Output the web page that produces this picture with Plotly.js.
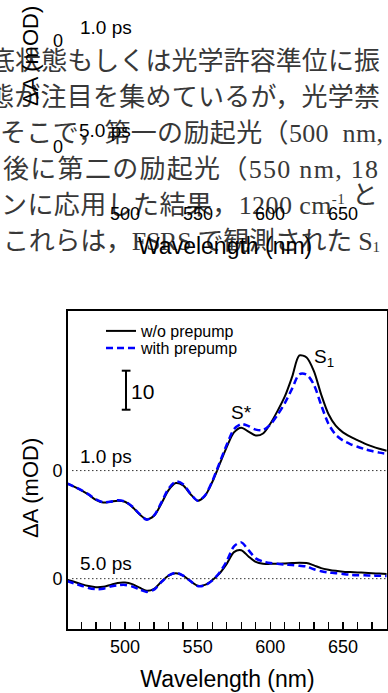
<!DOCTYPE html>
<html>
<head>
<meta charset="utf-8">
<script src="https://cdn.plot.ly/plotly-3.0.1.min.js"></script>
<style>
html,body{margin:0;padding:0;background:#fff;overflow:hidden}
#wrap{position:relative;width:388px;height:693px;background:#fff}
#jp{position:absolute;left:0;top:0;width:388px;height:300px}
#plot{position:absolute;left:0;top:0;width:388px;height:693px}
</style>
</head>
<body>
<div id="wrap">
<svg id="jp" xmlns="http://www.w3.org/2000/svg" width="388" height="300"></svg>
<div id="plot"></div>
</div>
<script>
// ---------------- data ----------------
const wavelength = [460,465,470,475,480,485,490,495,500,505,510,515,520,525,530,535,540,545,550,555,560,565,570,575,580,585,590,595,600,605,610,615,620,625,630,635,640,645,650,655,660,665,670,675,680];
// 1.0 ps spectra (mOD)
const dA_1ps_without = [-3.3,-4.1,-5.1,-6.2,-7.5,-8.2,-8.0,-7.7,-8.0,-9.3,-11.2,-12.5,-11.6,-8.5,-5.0,-3.2,-3.8,-6.0,-7.7,-6.5,-3.0,1.5,6.0,9.8,11.0,10.0,9.0,9.5,12.0,15.3,19.0,24.0,29.5,29.0,25.5,19.5,14.5,11.5,9.8,8.7,7.8,6.9,6.2,5.6,5.1];
const dA_1ps_with    = [-3.3,-4.1,-5.0,-6.1,-7.4,-8.1,-8.0,-7.6,-7.9,-9.2,-11.1,-12.6,-11.5,-8.2,-4.6,-2.8,-3.5,-5.9,-7.7,-6.4,-2.8,1.9,6.6,10.6,11.9,11.4,10.5,10.4,11.8,14.3,17.3,21.0,24.7,24.6,22.0,16.8,12.0,9.2,7.7,6.8,6.1,5.5,5.0,4.6,4.3];
// 5.0 ps spectra (mOD)
const dA_5ps_without = [-0.3,-0.8,-1.4,-1.9,-2.2,-2.1,-1.6,-1.1,-1.0,-1.4,-2.3,-3.1,-2.6,-0.8,0.8,1.4,0.8,-0.6,-1.8,-1.6,-0.4,1.3,3.8,6.8,7.3,5.7,4.3,3.8,3.8,3.8,3.9,4.0,4.1,4.0,3.4,2.7,2.3,2.0,1.8,1.7,1.6,1.5,1.4,1.3,1.2];
const dA_5ps_with    = [-0.6,-1.2,-1.8,-2.4,-2.7,-2.6,-2.0,-1.7,-1.6,-2.0,-2.8,-3.4,-2.8,-0.9,0.8,1.5,0.8,-0.6,-1.9,-1.7,-0.5,1.5,4.5,8.3,9.3,7.3,5.2,4.4,4.0,3.8,3.6,3.5,3.3,3.1,2.4,1.9,1.6,1.4,1.2,1.0,0.9,0.85,0.8,0.75,0.7];
const seriesNames = ["w/o prepump", "with prepump"];
const delayLabels = ["1.0 ps", "5.0 ps"];
const xTickLabels = ["500", "550", "600", "650"];
const xTickValues = [500, 550, 600, 650];
const scaleBarValue = 10;
const peakLabels = ["S*", "S<sub>1</sub>"];
const xTitle = "Wavelength (nm)";
const yTitle = "ΔA (mOD)";
// paragraph text (background page)
const paragraphLines = [
  ["底状態もしくは光学許容準位に振"],
  ["態が注目を集めているが，光学禁"],
  ["そこで，第一の励起光（500\u00a0\u00a0nm,"],
  ["後に第二の励起光（550 nm, 18"],
  ["ンに応用した結果，1200 cm", {sup:"-1"}, " と"],
  ["これらは，FSRS で観測された S", {sub:"1"}]
];

// ---------------- layout helpers ----------------
const W = 388, H = 693;
const M = {l:68, r:1, t:311, b:64};
const PW = W - M.l - M.r, PH = H - M.t - M.b;
const px2x = p => (p - M.l) / PW;
const py2y = p => (H - M.b - p) / PH;
const OFFSET = 27.7;
const XR = [460.8, 680.3];
const YR = [-12.9, 68.6];
const SANS = "Liberation Sans, Arial, sans-serif";

// ---------------- paragraph ----------------
(function(){
  const svg = document.getElementById('jp');
  const NS = 'http://www.w3.org/2000/svg';
  const lefts  = [-11, -12, 0, 3, 1, 3];
  const rights = [380, 380, 383, 378, 378, 380];
  const bases  = [70, 106, 142, 178, 214, 250];
  paragraphLines.forEach((parts, i) => {
    const t = document.createElementNS(NS, 'text');
    t.setAttribute('x', lefts[i]);
    t.setAttribute('y', bases[i]);
    t.setAttribute('font-family', "'Liberation Serif','Noto Sans CJK JP',serif");
    t.setAttribute('font-size', '26');
    t.setAttribute('fill', '#383838');
    t.setAttribute('textLength', rights[i] - lefts[i]);
    t.setAttribute('lengthAdjust', 'spacing');
    parts.forEach(p => {
      const s = document.createElementNS(NS, 'tspan');
      if (typeof p === 'string') { s.textContent = p; }
      else if (p.sup) { s.textContent = p.sup; s.setAttribute('font-size','15'); s.setAttribute('dy','-10'); }
      else if (p.sub) { s.textContent = p.sub; s.setAttribute('font-size','15'); s.setAttribute('dy','2'); }
      t.appendChild(s);
    });
    svg.appendChild(t);
  });
})();

// ---------------- traces ----------------
const shift = arr => arr.map(v => v + OFFSET);
const black = {color:'#000000', width:2, shape:'spline', smoothing:0.8};
const blue = {color:'#0000ff', width:2.5, dash:'7px,4px', shape:'spline', smoothing:0.8};
const traces = [
  {x:wavelength, y:shift(dA_1ps_without), mode:'lines', line:black, name:seriesNames[0], legend:'legend', showlegend:true},
  {x:wavelength, y:shift(dA_1ps_with), mode:'lines', line:blue, name:seriesNames[1], legend:'legend2', showlegend:true},
  {x:wavelength, y:dA_5ps_without, mode:'lines', line:black, name:seriesNames[0], showlegend:false},
  {x:wavelength, y:dA_5ps_with, mode:'lines', line:blue, name:seriesNames[1], showlegend:false}
];

// ---------------- annotations ----------------
const f = (s) => ({family:SANS, size:s, color:'#000'});
const ann = [
  {text:delayLabels[0], xref:'x', yref:'y', x:467.7, y:31.2, xanchor:'left', yanchor:'middle', showarrow:false, font:f(19)},
  {text:delayLabels[1], xref:'x', yref:'y', x:467.7, y:3.8, xanchor:'left', yanchor:'middle', showarrow:false, font:f(19)},
  {text:peakLabels[0], xref:'x', yref:'y', x:580.5, y:42.7, xanchor:'center', yanchor:'middle', showarrow:false, font:f(19)},
  {text:peakLabels[1], xref:'x', yref:'y', x:628.7, y:56.5, xanchor:'left', yanchor:'middle', showarrow:false, font:f(19)},
  {text:String(scaleBarValue), xref:'x', yref:'y', x:503.0, y:48.0, xanchor:'left', yanchor:'middle', showarrow:false, font:f(21)},
  {text:yTitle, xref:'paper', yref:'paper', x:px2x(30), y:py2y(488), textangle:-90, xanchor:'center', yanchor:'middle', showarrow:false, font:f(22)}
];
// ghost copy of the chart text, shifted up into the page text
const ghost = [
  {text:delayLabels[0], x:px2x(78), y:py2y(27), xanchor:'left', font:f(19)},
  {text:'0', x:px2x(58), y:py2y(40.5), xanchor:'center', font:f(18)},
  {text:delayLabels[1], x:px2x(77), y:py2y(130), xanchor:'left', font:f(19)},
  {text:'0', x:px2x(58), y:py2y(147), xanchor:'center', font:f(18)},
  {text:yTitle, x:px2x(30), y:py2y(56), xanchor:'center', textangle:-90, font:f(22)},
  {text:xTitle, x:px2x(225), y:py2y(246), xanchor:'center', font:f(23)}
];
ghost.forEach(g => ann.push(Object.assign({xref:'paper', yref:'paper', yanchor:'middle', showarrow:false}, g)));
xTickLabels.forEach((t, i) => ann.push({text:t, xref:'x', yref:'paper', x:xTickValues[i], y:py2y(214.5), xanchor:'center', yanchor:'middle', showarrow:false, font:f(18)}));

// ---------------- shapes ----------------
const shapes = [
  {type:'line', xref:'paper', yref:'y', x0:px2x(72), x1:1, y0:0, y1:0, line:{color:'#333', width:1, dash:'1.5px,2.5px'}},
  {type:'line', xref:'paper', yref:'y', x0:px2x(72), x1:1, y0:OFFSET, y1:OFFSET, line:{color:'#333', width:1, dash:'1.5px,2.5px'}},
  {type:'line', xref:'x', yref:'y', x0:500.7, x1:500.7, y0:43.3, y1:43.3 + scaleBarValue, line:{color:'#000', width:2}},
  {type:'line', xref:'x', yref:'y', x0:497.8, x1:503.8, y0:43.3, y1:43.3, line:{color:'#000', width:2}},
  {type:'line', xref:'x', yref:'y', x0:497.8, x1:503.8, y0:43.3 + scaleBarValue, y1:43.3 + scaleBarValue, line:{color:'#000', width:2}}
];

const legendBase = {xanchor:'left', yanchor:'middle', bgcolor:'rgba(0,0,0,0)', borderwidth:0, font:f(16), itemwidth:30};
const layout = {
  width:W, height:H, margin:M,
  paper_bgcolor:'rgba(0,0,0,0)', plot_bgcolor:'#fff',
  font:{family:SANS, color:'#000'},
  xaxis:{range:XR, showgrid:false, zeroline:false, showline:true, linecolor:'#000', linewidth:2, mirror:true,
         ticks:'inside', ticklen:7, tickwidth:1.3, tickcolor:'#000', tick0:0, dtick:50,
         minor:{dtick:10, tick0:0, ticks:'inside', ticklen:7, tickwidth:1.3, tickcolor:'#000'},
         tickfont:f(18), title:{text:xTitle, font:f(23), standoff:15}},
  yaxis:{range:YR, showgrid:false, zeroline:false, showline:true, linecolor:'#000', linewidth:2, mirror:true,
         ticks:'', tickvals:[0, OFFSET], ticktext:['0','0'], tickfont:f(18)},
  legend:Object.assign({x:px2x(101), y:py2y(331)}, legendBase),
  legend2:Object.assign({x:px2x(101), y:py2y(348)}, legendBase),
  annotations:ann, shapes:shapes
};
Plotly.newPlot('plot', traces, layout, {staticPlot:true, displayModeBar:false});
</script>
</body>
</html>
